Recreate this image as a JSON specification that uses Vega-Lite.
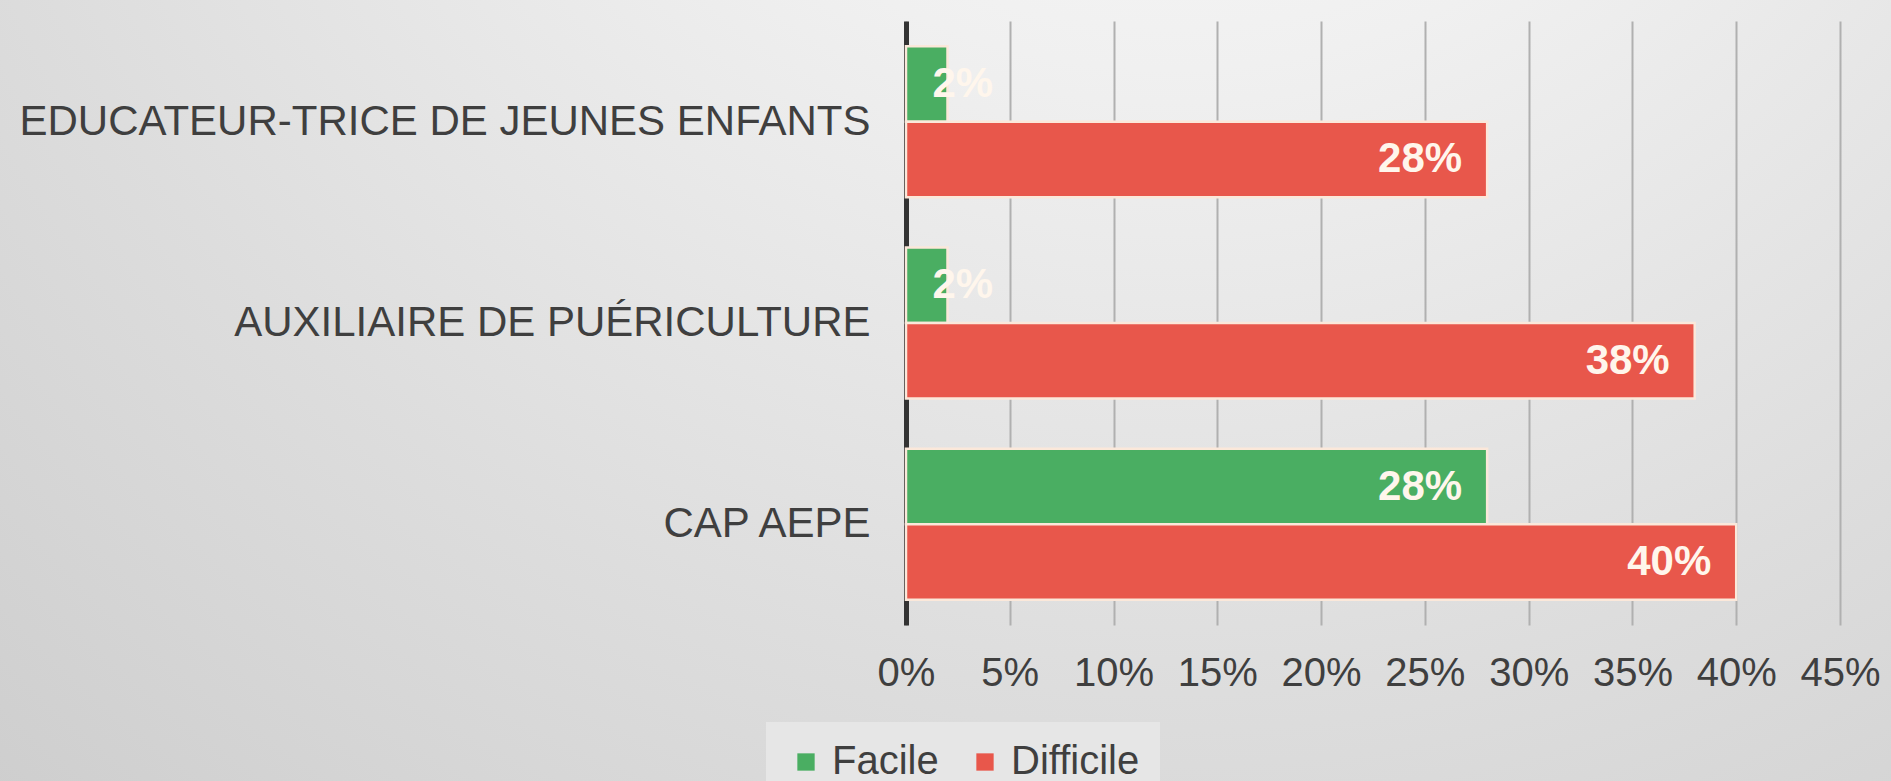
{
  "$schema": "https://vega.github.io/schema/vega-lite/v6.json",
  "width": 1891,
  "height": 781,
  "autosize": {"type": "none"},
  "padding": 0,
  "background": "#DCDCDC",
  "config": {
    "view": {
      "stroke": null,
      "fill": {
        "gradient": "radial",
        "x1": 0.62, "y1": 0.0, "r1": 0,
        "x2": 0.62, "y2": 0.0, "r2": 1.1,
        "stops": [
          {"offset": 0, "color": "#FFFFFF"},
          {"offset": 0.3, "color": "#F0F0F0"},
          {"offset": 0.6, "color": "#DDDDDD"},
          {"offset": 1, "color": "#C6C6C6"}
        ]
      }
    },
    "font": "Liberation Sans"
  },
  "data": {
    "values": [
      {"categorie": "EDUCATEUR-TRICE DE JEUNES ENFANTS", "niveau": "Facile", "part": 0.02},
      {"categorie": "EDUCATEUR-TRICE DE JEUNES ENFANTS", "niveau": "Difficile", "part": 0.28},
      {"categorie": "AUXILIAIRE DE PUÉRICULTURE", "niveau": "Facile", "part": 0.02},
      {"categorie": "AUXILIAIRE DE PUÉRICULTURE", "niveau": "Difficile", "part": 0.38},
      {"categorie": "CAP AEPE", "niveau": "Facile", "part": 0.28},
      {"categorie": "CAP AEPE", "niveau": "Difficile", "part": 0.40}
    ]
  },
  "encoding": {
    "y": {
      "field": "categorie",
      "type": "nominal",
      "sort": ["EDUCATEUR-TRICE DE JEUNES ENFANTS", "AUXILIAIRE DE PUÉRICULTURE", "CAP AEPE"],
      "scale": {"range": [21, 625], "paddingInner": 0.25, "paddingOuter": 0.125},
      "axis": {
        "title": null,
        "offset": -906,
        "ticks": false,
        "domainColor": "#333333",
        "domainWidth": 5,
        "labelFontSize": 42,
        "labelColor": "#3F3F3F",
        "labelPadding": 36,
        "labelLimit": 1000,
        "grid": false
      }
    },
    "yOffset": {
      "field": "niveau",
      "type": "nominal",
      "sort": ["Facile", "Difficile"],
      "scale": {"paddingInner": 0, "paddingOuter": 0}
    },
    "x": {
      "field": "part",
      "type": "quantitative",
      "scale": {"domain": [0, 0.45], "nice": false, "range": [906, 1840]}
    }
  },
  "resolve": {"axis": {"x": "independent"}},
  "layer": [
    {
      "mark": {"type": "bar", "stroke": "#FBE8DA", "strokeWidth": 2.5},
      "encoding": {
        "x": {
          "field": "part",
          "type": "quantitative",
          "axis": {
            "orient": "top",
            "title": null,
            "values": [0, 0.05, 0.1, 0.15, 0.2, 0.25, 0.3, 0.35, 0.4, 0.45],
            "labels": false,
            "domain": false,
            "ticks": false,
            "grid": true,
            "gridColor": "#B0B0B0",
            "gridWidth": 2
          }
        },
        "color": {
          "field": "niveau",
          "type": "nominal",
          "sort": ["Facile", "Difficile"],
          "scale": {"domain": ["Facile", "Difficile"], "range": ["#4AAE62", "#E8574B"]},
          "legend": {
            "title": null,
            "orient": "none",
            "direction": "horizontal",
            "legendX": 766,
            "legendY": 722,
            "padding": 20,
            "fillColor": "#E6E6E6",
            "symbolType": "square",
            "symbolSize": 300,
            "symbolStrokeWidth": 0,
            "labelFontSize": 40,
            "labelColor": "#3F3F3F",
            "labelOffset": 6,
            "columnPadding": 26
          }
        }
      }
    },
    {
      "transform": [{"filter": "datum.part >= 0.1"}],
      "mark": {"type": "text", "align": "right", "baseline": "middle", "dx": -25, "fontSize": 42, "fontWeight": "bold", "color": "#FFF6EC"},
      "encoding": {
        "x": {
          "field": "part",
          "type": "quantitative",
          "axis": {
            "orient": "bottom",
            "offset": -156,
            "title": null,
            "format": ".0%",
            "values": [0, 0.05, 0.1, 0.15, 0.2, 0.25, 0.3, 0.35, 0.4, 0.45],
            "domain": false,
            "ticks": false,
            "grid": false,
            "labelFontSize": 40,
            "labelColor": "#3F3F3F",
            "labelPadding": 28,
            "labelFlush": false
          }
        },
        "text": {"field": "part", "type": "quantitative", "format": ".0%"}
      }
    },
    {
      "transform": [{"filter": "datum.part < 0.1"}],
      "mark": {"type": "text", "align": "left", "baseline": "middle", "dx": -15, "fontSize": 42, "fontWeight": "bold", "color": "#FFF6EC"},
      "encoding": {
        "x": {"field": "part", "type": "quantitative", "axis": null},
        "text": {"field": "part", "type": "quantitative", "format": ".0%"}
      }
    }
  ]
}
